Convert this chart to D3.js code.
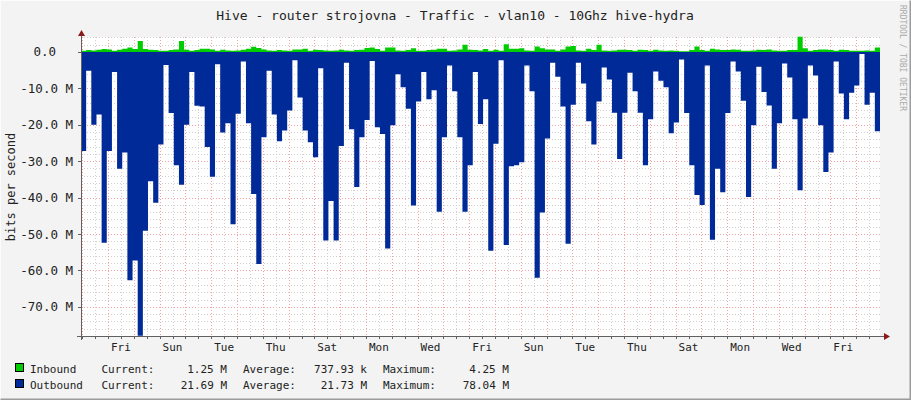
<!DOCTYPE html>
<html><head><meta charset="utf-8">
<script src="https://cdn.jsdelivr.net/npm/d3@7"></script>
<style>body{margin:0;background:#f3f3f3}svg{display:block;font-family:"DejaVu Sans Mono",monospace}</style>
</head><body><svg id="c" width="911" height="400"></svg>
<script>
const title = "Hive - router strojovna - Traffic - vlan10 - 10Ghz hive-hydra";
const dayLabels = ["Fri","Sun","Tue","Thu","Sat","Mon","Wed","Fri","Sun","Tue","Thu","Sat","Mon","Wed","Fri"];
const yTicks = [0,-10,-20,-30,-40,-50,-60,-70];
const yTickLabels = ["0.0","-10.0 M","-20.0 M","-30.0 M","-40.0 M","-50.0 M","-60.0 M","-70.0 M"];
const outbound = [27.2,5.2,20,17.2,52.4,27.2,5.5,32.1,27.6,62.7,57.3,77.9,49.1,35.5,41.4,25.4,3.6,16.8,31.1,36.5,20,5.5,14.8,15,26.1,34.3,3.4,22.1,19.6,47.3,17,2.6,19.6,39,58.2,23.4,5.2,17.2,24.5,21.6,
16.1,2.3,12.5,21.6,24.8,28.9,4.5,51.8,40.9,51.8,25.8,3,21.2,37.1,23.4,18.7,2.5,20.7,22.5,54,20.1,6.1,9.7,15.6,42.2,13.6,5.5,13,10.5,43.9,23.4,3.7,10.8,23.4,43.9,31.1,5.5,19.8,13,
54.6,25.2,2.3,53,31.4,31.1,30.3,3.7,10.8,62,44.1,23.8,3,6.8,15,52.7,14.5,3,8.7,19,25.4,13.6,4.3,7.6,16.7,29.4,16.7,5.7,10.8,16.7,31.1,18.5,5.4,7.9,9.7,22.3,19.4,2.1,16.8,
31.1,39.3,42,3.7,51.6,32.1,38.5,16.8,2.6,5.4,13.4,39.8,20.1,4.1,11,14.7,32.1,19.6,3.2,7,18.5,38,18.3,3.7,6.5,20.1,33,27.6,2.6,11.4,18.5,11.2,9.2,0.6,14.5,11.2,21.8];
const inbound = [0.3,0.5,0.4,0.6,0.8,0.7,0.3,0.6,0.9,1.2,
0.8,3.0,0.8,0.6,0.5,0.3,0.3,0.5,0.7,3.0,
0.6,0.3,0.5,0.9,0.9,0.7,0.3,0.6,0.4,0.3,
0.4,0.6,0.9,1.4,1.1,0.7,0.4,0.3,0.5,0.4,
0.3,0.7,0.7,0.9,0.3,0.6,0.5,0.4,0.3,0.4,
0.6,0.4,0.3,0.5,0.6,1.1,1.2,0.8,0.3,1.2,
1.2,0.4,0.3,0.5,1.0,0.3,0.3,0.5,0.6,0.9,
0.9,0.3,0.4,0.7,2.0,0.6,0.5,0.4,0.8,0.3,
0.6,0.3,2.1,0.9,0.9,1.0,0.4,0.3,1.5,1.0,
0.7,0.7,0.3,0.7,1.5,1.6,0.4,0.3,0.9,0.5,
2.0,0.4,0.3,0.4,0.6,0.6,0.5,0.3,0.6,0.5,
0.3,0.6,0.4,0.3,0.4,0.3,0.2,0.2,0.5,1.5,
0.5,0.3,0.9,0.7,0.5,0.5,0.7,0.6,0.3,0.3,
0.4,0.6,0.5,0.7,0.4,0.3,0.3,0.5,0.5,4.2,
1.0,0.3,0.5,0.7,0.7,0.5,0.3,0.6,0.5,0.3,
0.3,0.3,0.4,0.3,1.25];
const legend = [
 {name:"Inbound", color:"#00cc00", cur:"1.25 M", avg:"737.93 k", max:"4.25 M"},
 {name:"Outbound", color:"#002a97", cur:"21.69 M", avg:"21.73 M", max:"78.04 M"}];

const svg = d3.select("#c");
const L=81, R=880, T=37, B=336;
svg.append("rect").attr("width",911).attr("height",400).attr("fill","#f3f3f3");
svg.append("path").attr("d","M0.5,399.5V0.5H910.5").attr("stroke","#fcfcfc").attr("fill","none");
svg.append("path").attr("d","M0.5,399.5H910.5V0.5").attr("stroke","#9c9c9c").attr("fill","none").attr("stroke-width",2);
svg.append("rect").attr("x",L).attr("y",T).attr("width",R-L).attr("height",B-T).attr("fill","#fff");

const y = d3.scaleLinear().domain([-78, 4.1]).range([B, T]);
const xi = d3.scaleLinear().domain([0, outbound.length]).range([L, R]);
const xd = d3.scaleLinear().domain([0, 1]).range([108, 133.8]); // days, 0 = first Fri midnight
const dayMin = Math.ceil(xd.invert(L)*2)/2, dayMax = xd.invert(R);

const g = svg.append("g");
// minor horizontal
for (let v=-78; v<=4; v+=2) {
  const major = v%10===0;
  g.append("line").attr("x1",L).attr("x2",R).attr("y1",Math.round(y(v))+0.5).attr("y2",Math.round(y(v))+0.5)
   .attr("stroke",major?"#f2a0a0":"#d0d0d0").attr("stroke-dasharray","1,2");
}
for (let t=dayMin; t<=dayMax; t+=0.5) {
  const major = Number.isInteger(t);
  const X = Math.round(xd(t))+0.5;
  g.append("line").attr("x1",X).attr("x2",X).attr("y1",T).attr("y2",B)
   .attr("stroke",major?"#f2a0a0":"#d0d0d0").attr("stroke-dasharray","1,2");
}

const pts = arr => arr.map((v,i)=>({i,v})).concat([{i:arr.length, v:arr[arr.length-1]}]);
svg.append("path").datum(pts(outbound))
  .attr("d", d3.area().curve(d3.curveStepAfter).x(d=>xi(d.i)).y0(y(0)).y1(d=>y(-d.v)))
  .attr("fill","#002a97");
svg.append("path").datum(pts(inbound))
  .attr("d", d3.area().curve(d3.curveStepAfter).x(d=>xi(d.i)).y0(y(0)).y1(d=>y(d.v)))
  .attr("fill","#00cc00");

// axes
svg.append("line").attr("x1",77).attr("x2",884).attr("y1",B+0.5).attr("y2",B+0.5).attr("stroke","#606060");
svg.append("line").attr("x1",L+0.5).attr("x2",L+0.5).attr("y1",340).attr("y2",32).attr("stroke","#606060");
svg.append("path").attr("d",`M884,${B-3}L890,${B+0.5}L884,${B+4}Z`).attr("fill","#8b1a1a");
svg.append("path").attr("d",`M${L-3},36L${L+0.5},30L${L+4},36Z`).attr("fill","#8b1a1a");
for (let t=dayMin; t<=dayMax; t+=0.5) {
  const X = Math.round(xd(t))+0.5;
  svg.append("line").attr("x1",X).attr("x2",X).attr("y1",B).attr("y2",B+3).attr("stroke","#606060");
}
yTicks.forEach((v,k)=>{
  svg.append("line").attr("x1",L-3).attr("x2",L).attr("y1",Math.round(y(v))+0.5).attr("y2",Math.round(y(v))+0.5).attr("stroke","#606060");
  svg.append("text").attr("x", v===0?56:73).attr("y", y(v)+4.5).attr("text-anchor","end")
    .attr("font-size",12.5).attr("fill","#222").text(yTickLabels[k]);
});
dayLabels.forEach((d,k)=>{
  svg.append("text").attr("x", xd(0.5+2*k)).attr("y",351).attr("text-anchor","middle")
   .attr("font-size",11).attr("fill","#222").text(d);
});
svg.append("text").attr("x",455).attr("y",20).attr("text-anchor","middle").attr("font-size",13).attr("fill","#222").text(title);
svg.append("text").attr("transform","translate(15,187) rotate(-90)").attr("text-anchor","middle")
  .attr("font-size",12).attr("fill","#222").text("bits per second");
svg.append("text").attr("transform","translate(900,5) rotate(90)").attr("text-anchor","start")
  .attr("font-size",8).attr("fill","#aaa").text("RRDTOOL / TOBI OETIKER");

legend.forEach((s,k)=>{
  const yy = 373 + k*16;
  svg.append("rect").attr("x",15.5).attr("y",yy-9.5).attr("width",8).attr("height",8).attr("fill",s.color).attr("stroke","#000");
  const t = (x,a,txt)=>svg.append("text").attr("x",x).attr("y",yy).attr("text-anchor",a).attr("font-size",11).attr("fill","#222").text(txt);
  t(30,"start",s.name); t(101.5,"start","Current:"); t(227,"end",s.cur);
  t(243,"start","Average:"); t(367,"end",s.avg); t(383,"start","Maximum:"); t(509,"end",s.max);
});
</script></body></html>
